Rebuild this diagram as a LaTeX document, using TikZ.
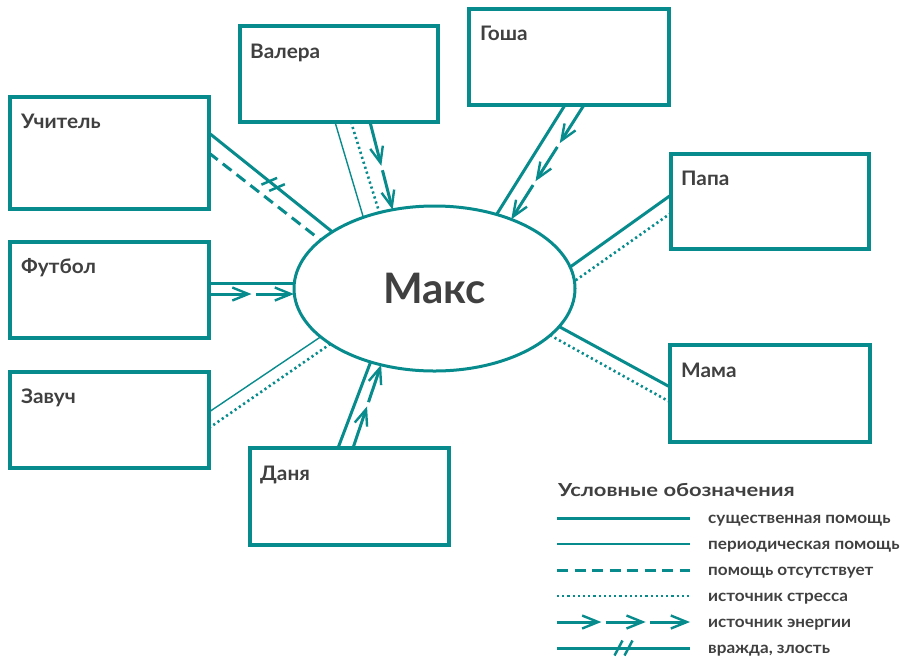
\documentclass[tikz,border=0pt]{standalone}
\usepackage{fontspec}
\setmainfont{Lato}
\newfontfamily\lblfont[FakeStretch=1.04]{Lato}
\newfontfamily\titlefont[FakeStretch=1.22]{Lato}
\newfontfamily\legfont[FakeStretch=1.07]{Lato}
\usetikzlibrary{arrows.meta,calc,shapes.geometric,decorations.markings}
\definecolor{tealc}{RGB}{8,139,141}
\definecolor{txt}{RGB}{64,64,64}
\newcommand\energyline[3]{%
  \foreach \k in {1,...,#3}{%
    \pgfmathsetmacro\ea{(\k-1)/#3}%
    \pgfmathsetmacro\eb{\k/#3}%
    \pgfmathsetmacro\eg{\k==1?0:4.5}%
    \draw[energy, shorten <=\eg pt] ($(#1)!\ea!(#2)$) -- ($(#1)!\eb!(#2)$);}}
\begin{document}
\begin{tikzpicture}[x=1pt,y=-1pt,
  box/.style={draw=tealc, line width=3.2pt, rectangle, outer sep=0pt, inner sep=0pt, anchor=north west},
  lbl/.style={font=\lblfont\fontsize{20}{23}\selectfont\bfseries, text=txt, anchor=base west, inner sep=0pt},
  sline/.style={draw=tealc, line width=3pt},
  tline/.style={draw=tealc, line width=1.4pt},
  dashline/.style={draw=tealc, line width=3pt, dash pattern=on 11pt off 6.5pt},
  dotline/.style={draw=tealc, line width=2.6pt, dash pattern=on 2.2pt off 3pt},
  energy/.style={draw=tealc, line width=3pt, -{Straight Barb[length=16pt,width=13pt,line width=2.4pt]}},
  hostile/.style={sline, postaction={decorate}, decoration={markings, mark=at position #1 with {\draw[line width=2.5pt, tealc] (-9pt,-7.5pt)--(-1pt,7.5pt) (1pt,-7.5pt)--(9pt,7.5pt);}}},
  legtext/.style={font=\legfont\fontsize{16}{19}\selectfont\bfseries, text=txt, anchor=base west, inner sep=0pt}
]
\useasboundingbox (0,0) rectangle (901,657);
% boxes
\node[box, minimum width=199pt, minimum height=112pt] (uch) at (10,97) {};
\node[box, minimum width=198pt, minimum height=96pt] (val) at (240,26) {};
\node[box, minimum width=200pt, minimum height=96pt] (gosh) at (469,9) {};
\node[box, minimum width=198pt, minimum height=95pt] (papa) at (671,154) {};
\node[box, minimum width=199pt, minimum height=96pt] (fut) at (10,242) {};
\node[box, minimum width=199pt, minimum height=96pt] (zav) at (10,372) {};
\node[box, minimum width=199pt, minimum height=97pt] (dan) at (250,448) {};
\node[box, minimum width=200pt, minimum height=97pt] (mama) at (670,345) {};
% labels
\node[lbl] (uch-t) at ($(uch.north west)+(11,31)$) {Учитель};
\node[lbl] (val-t) at ($(val.north west)+(10,32)$) {Валера};
\node[lbl] (gosh-t) at ($(gosh.north west)+(11,31)$) {Гоша};
\node[lbl] (papa-t) at ($(papa.north west)+(10,31)$) {Папа};
\node[lbl] (fut-t) at ($(fut.north west)+(11,31)$) {Футбол};
\node[lbl] (zav-t) at ($(zav.north west)+(11,31)$) {Завуч};
\node[lbl] (dan-t) at ($(dan.north west)+(10,32)$) {Даня};
\node[lbl] (mama-t) at ($(mama.north west)+(11,32)$) {Мама};
% center
\node[draw=tealc, line width=3pt, ellipse, minimum width=281pt, minimum height=165pt, inner sep=0pt, outer sep=0pt,
  font=\fontsize{42}{50}\selectfont\bfseries, text=txt] (maks) at (434.5,288.5) {Макс};
% connector endpoints on boxes
\coordinate (uch-a) at ($(uch.north east)+(0,36)$);
\coordinate (uch-b) at ($(uch.north east)+(0,56)$);
\coordinate (val-a) at ($(val.south west)+(95,0)$);
\coordinate (val-b) at ($(val.south west)+(111,0)$);
\coordinate (val-c) at ($(val.south west)+(130,0)$);
\coordinate (gosh-a) at ($(gosh.south west)+(96,0)$);
\coordinate (gosh-b) at ($(gosh.south west)+(115,0)$);
\coordinate (papa-a) at ($(papa.north west)+(0,41)$);
\coordinate (papa-b) at ($(papa.north west)+(0,59)$);
\coordinate (fut-a) at ($(fut.north east)+(0,41)$);
\coordinate (fut-b) at ($(fut.north east)+(0,52)$);
\coordinate (zav-a) at ($(zav.north east)+(0,40)$);
\coordinate (zav-b) at ($(zav.north east)+(0,56)$);
\coordinate (dan-a) at ($(dan.north west)+(88,0)$);
\coordinate (dan-b) at ($(dan.north west)+(103,0)$);
\coordinate (mama-a) at ($(mama.north west)+(0,42)$);
\coordinate (mama-b) at ($(mama.north west)+(0,57)$);
% connectors
\draw[hostile=0.52] (uch-a) -- (maks.151.2);
\draw[dashline] (uch-b) -- (maks.157.3);
\draw[tline] (val-a) -- (maks.135.8);
\draw[dotline] (val-b) -- (maks.126.9);
\energyline{val-c}{maks.118.9}{2}
\draw[sline] (gosh-a) -- (maks.50.4);
\energyline{gosh-b}{maks.42.3}{3}
\draw[sline] (papa-a) -- (maks.9.4);
\draw[dotline] (papa-b) -- (maks.3.4);
\draw[sline] (fut-a) -- (fut-a -| maks.west);
\energyline{fut-b}{fut-b -| maks.west}{2}
\draw[tline] (zav-a) -- (maks.203.0);
\draw[dotline] (zav-b) -- (maks.208.9);
\draw[sline] (dan-a) -- (maks.229.6);
\energyline{dan-b}{maks.235.5}{2}
\draw[sline] (mama-a) -- (maks.343.8);
\draw[dotline] (mama-b) -- (maks.338.6);
% legend
\node[font=\titlefont\fontsize{18}{21}\selectfont\bfseries, text=txt, anchor=base west, inner sep=0pt] (leg-title) at (558,496) {Условные обозначения};
\foreach \i/\y in {1/518,2/544,3/570,4/596,5/622,6/648}{
  \coordinate (l\i a) at (557,\y);
  \coordinate (l\i b) at (690,\y);
}
\draw[sline] (l1a) -- (l1b);
\draw[tline] (l2a) -- (l2b);
\draw[dashline] (l3a) -- (l3b);
\draw[dotline] (l4a) -- (l4b);
\energyline{l5a}{l5b}{3}
\draw[hostile=0.5] (l6a) -- (l6b);
\node[legtext] (t1) at (708,523) {существенная помощь};
\node[legtext] (t2) at (708,549) {периодическая помощь};
\node[legtext] (t3) at (708,575) {помощь отсутствует};
\node[legtext] (t4) at (708,601) {источник стресса};
\node[legtext] (t5) at (708,627) {источник энергии};
\node[legtext] (t6) at (708,653) {вражда, злость};
\end{tikzpicture}
\end{document}
